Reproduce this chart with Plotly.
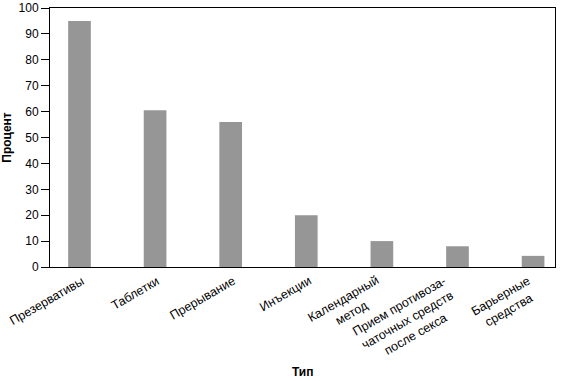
import plotly.graph_objects as go

categories = ["Презервативы", "Таблетки", "Прерывание", "Инъекции",
              "Календарный<br>метод", "Прием противоза-<br>чаточных средств<br>после секса",
              "Барьерные<br>средства"]
values = [95, 60.5, 56, 20, 10, 8, 4.3]
y_ticks = [0, 10, 20, 30, 40, 50, 60, 70, 80, 90, 100]

xs = list(range(len(categories)))
fig = go.Figure(go.Bar(
    x=xs, y=values,
    marker=dict(color="#969696", line=dict(width=0)),
    width=0.3,
))

font = dict(family="Liberation Sans, Arial, sans-serif", size=12, color="black")
label_font = dict(family="Liberation Sans, Arial, sans-serif", size=12.5, color="black")

annotations = [
    dict(x=xi, y=0, xref="x", yref="y", text=lab, showarrow=False,
         textangle=-30, align="center", xanchor="right", yanchor="top",
         xshift=10, yshift=-4, font=label_font)
    for xi, lab in zip(xs, categories)
]
annotations.append(dict(x=0.5, y=-0.405, xref="paper", yref="paper", text="<b>Тип</b>",
                        showarrow=False, xanchor="center", yanchor="middle", font=font))

fig.update_layout(
    width=561, height=381,
    margin=dict(l=50, r=6, t=8, b=114),
    paper_bgcolor="white", plot_bgcolor="white",
    font=font, showlegend=False,
    annotations=annotations,
    xaxis=dict(
        range=[-0.39, 6.29], automargin=False,
        tickvals=xs, showticklabels=False,
        showline=True, linecolor="black", linewidth=1, mirror=True,
        showgrid=False, ticks="", zeroline=False,
    ),
    yaxis=dict(
        range=[0, 100], tickvals=y_ticks, ticks="outside", ticklen=8, tickcolor="black",
        automargin=False,
        showline=True, linecolor="black", linewidth=1, mirror=True,
        showgrid=False, zeroline=False,
        title=dict(text="<b>Процент</b>", font=dict(size=12)),
    ),
)
fig.write_html("out.html", config={"displayModeBar": False},
               post_script="document.body.style.margin='0';document.body.style.overflow='hidden';")
